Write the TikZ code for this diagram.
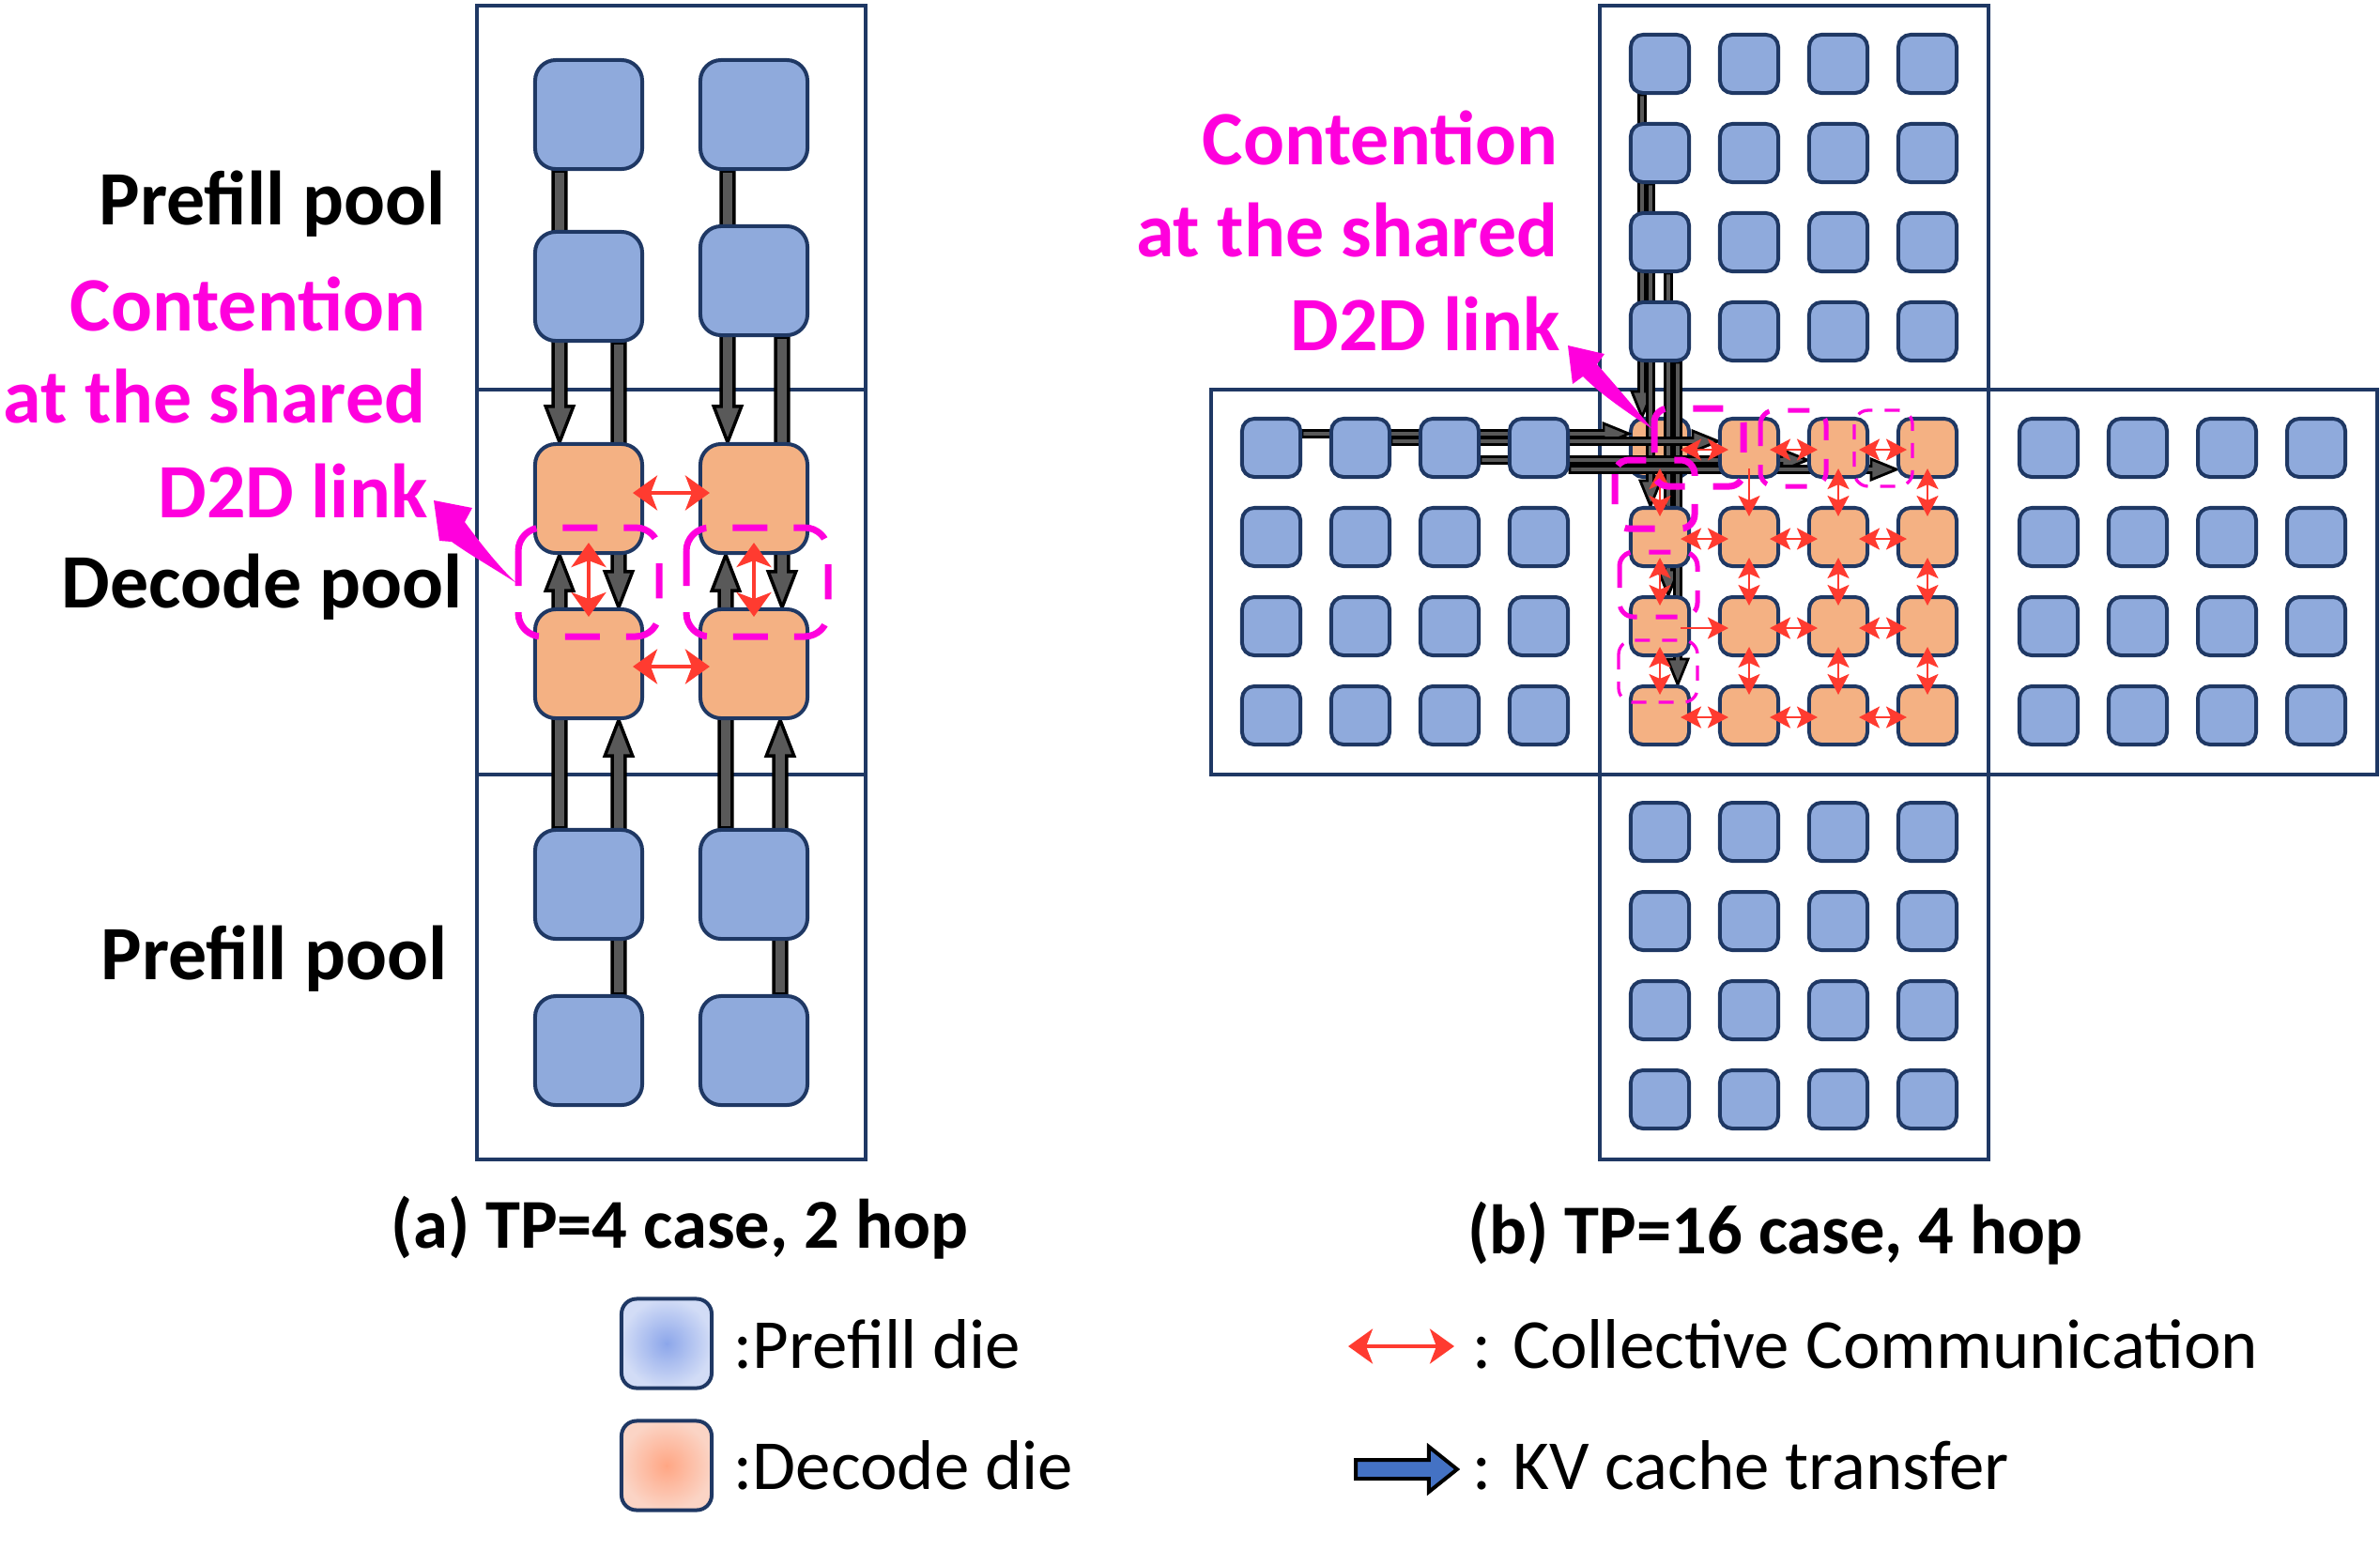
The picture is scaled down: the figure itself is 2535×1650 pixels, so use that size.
\documentclass[tikz,border=0pt]{standalone}
\usepackage{fontspec}
\setmainfont{Carlito}
\usetikzlibrary{arrows.meta,calc}
\pgfdeclarelayer{bg}\pgfdeclarelayer{low}\pgfdeclarelayer{kv}
\pgfsetlayers{bg,low,kv,main}
\definecolor{prefill}{HTML}{8FAADC}
\definecolor{decode}{HTML}{F4B183}
\definecolor{navy}{HTML}{1F3864}
\definecolor{kvgray}{HTML}{595959}
\definecolor{mag}{HTML}{FF00DD}
\definecolor{cred}{HTML}{FF3B30}
\definecolor{kvblue}{HTML}{4472C4}
\definecolor{legPin}{RGB}{140,166,234}
\definecolor{legPout}{RGB}{210,220,246}
\definecolor{legDin}{RGB}{255,166,132}
\definecolor{legDout}{RGB}{251,212,197}
% block arrow: style, start, end, half shaft, half head, head length
\newcommand\kvgen[6]{%
  \filldraw[#1] let \p1=(#2), \p2=(#3), \n1={atan2(\y2-\y1,\x2-\x1)}, \n2={veclen(\x2-\x1,\y2-\y1)} in
   ($(\p1)+(\n1+90:#4)$) -- ++(\n1:{\n2-#6}) -- ++(\n1+90:{#5-#4}) -- (\p2)
   -- ($(\p2)+(\n1+180:#6)+(\n1-90:#5)$) -- ++(\n1+90:{#5-#4}) -- ($(\p1)+(\n1-90:#4)$) -- cycle;}
\newcommand\kvA[2]{\kvgen{kvlineA}{#1}{#2}{0.068cm}{0.147cm}{0.38cm}}
\newcommand\kvB[2]{\kvgen{kvlineB}{#1}{#2}{0.035cm}{0.11cm}{0.27cm}}
\begin{document}
\begin{tikzpicture}[x=0.01cm,y=-0.01cm,
  blk/.style={draw=navy,line width=0.04cm},
  dieA/.style={rectangle,rounded corners=0.22cm,draw=navy,line width=0.04cm,minimum width=1.14cm,minimum height=1.16cm,inner sep=0pt},
  pA/.style={dieA,fill=prefill}, dA/.style={dieA,fill=decode},
  dieB/.style={rectangle,rounded corners=0.13cm,draw=navy,line width=0.04cm,minimum size=0.62cm,inner sep=0pt},
  pB/.style={dieB,fill=prefill}, dB/.style={dieB,fill=decode},
  kvlineA/.style={draw=black,fill=kvgray,line width=0.035cm,line join=miter},
  kvlineB/.style={draw=black,fill=kvgray,line width=0.028cm,line join=miter},
  kvlineL/.style={draw=black,fill=kvblue,line width=0.04cm,line join=miter},
  redA/.style={draw=cred,line width=0.035cm,{Stealth[length=0.26cm,width=0.37cm,inset=0.07cm]}-{Stealth[length=0.26cm,width=0.37cm,inset=0.07cm]}},
  redB/.style={draw=cred,line width=0.022cm,{Stealth[length=0.22cm,width=0.23cm,inset=0.05cm]}-{Stealth[length=0.22cm,width=0.23cm,inset=0.05cm]}},
  redBs/.style={draw=cred,line width=0.022cm,-{Stealth[length=0.22cm,width=0.23cm,inset=0.05cm]}},
  magA/.style={draw=mag,line width=0.07cm,dash pattern=on 0.37cm off 0.28cm,rounded corners=0.25cm},
  magS/.style={draw=mag,line width=0.07cm,dash pattern=on 0.32cm off 0.3cm,rounded corners=0.15cm},
  magM/.style={draw=mag,line width=0.05cm,dash pattern=on 0.23cm off 0.2cm,rounded corners=0.15cm},
  magT/.style={draw=mag,line width=0.033cm,dash pattern=on 0.16cm off 0.13cm,rounded corners=0.15cm},
  txt/.style={font=\fontsize{23.3pt}{28pt}\selectfont\bfseries,inner sep=0pt},
  magtxt/.style={txt,text=mag},
  captxt/.style={font=\fontsize{21.2pt}{25pt}\selectfont\bfseries,inner sep=0pt},
  legtxt/.style={font=\fontsize{21.3pt}{25pt}\selectfont,inner sep=0pt},
  legbox/.style={rectangle,rounded corners=0.16cm,draw=navy,line width=0.04cm,minimum width=0.96cm,minimum height=0.95cm,inner sep=0pt}
]
\useasboundingbox (0,0) rectangle (2535,1650);

% ---------- pool frames ----------
\begin{pgfonlayer}{bg}
\draw[blk] (508,6) rectangle (922,415);
\draw[blk] (508,415) rectangle (922,825);
\draw[blk] (508,825) rectangle (922,1235);
\draw[blk] (1704,6) rectangle (2118,415);
\draw[blk] (1290,415) rectangle (1704,825);
\draw[blk] (1704,415) rectangle (2118,825);
\draw[blk] (2118,415) rectangle (2532,825);
\draw[blk] (1704,825) rectangle (2118,1235);
\end{pgfonlayer}

% ---------- (a) dies ----------
\node[pA] (aP0L) at (627,122) {};
\node[pA] (aP1L) at (627,305) {};
\node[dA] (aD0L) at (627,531) {};
\node[dA] (aD1L) at (627,707) {};
\node[pA] (aP2L) at (627,942) {};
\node[pA] (aP3L) at (627,1119) {};
\node[pA] (aP0R) at (803,122) {};
\node[pA] (aP1R) at (803,299) {};
\node[dA] (aD0R) at (803,531) {};
\node[dA] (aD1R) at (803,707) {};
\node[pA] (aP2R) at (803,942) {};
\node[pA] (aP3R) at (803,1119) {};

% ---------- (b) dies ----------
\foreach \c in {0,...,3}{\foreach \r in {0,...,3}{
  \node[pB] (T-\c-\r) at ({1768+95*\c},{68+95*\r}) {};
  \node[pB] (L-\c-\r) at ({1354+95*\c},{477+95*\r}) {};
  \node[pB] (R-\c-\r) at ({2182+95*\c},{477+95*\r}) {};
  \node[pB] (B-\c-\r) at ({1768+95*\c},{886+95*\r}) {};
  \ifnum\numexpr\c+\r\relax>0
    \node[dB] (C-\c-\r) at ({1768+95*\c},{477+95*\r}) {};
  \fi
}}
\begin{pgfonlayer}{low}
\node[dB] (C-0-0) at (1768,477) {};
\end{pgfonlayer}

% ---------- KV cache transfer arrows ----------
\begin{pgfonlayer}{kv}
\kvA{$(aP0L.south)+(-31,0)$}{$(aD0L.north)+(-31,0)$}
\kvA{$(aP1L.south)+(32,0)$}{$(aD1L.north)+(32,0)$}
\kvA{$(aP2L.north)+(-31,0)$}{$(aD0L.south)+(-31,0)$}
\kvA{$(aP3L.north)+(32,0)$}{$(aD1L.south)+(32,0)$}
\kvA{$(aP0R.south)+(-28,0)$}{$(aD0R.north)+(-28,0)$}
\kvA{$(aP1R.south)+(30,0)$}{$(aD1R.north)+(30,0)$}
\kvA{$(aP2R.north)+(-30,0)$}{$(aD0R.south)+(-30,0)$}
\kvA{$(aP3R.north)+(28,0)$}{$(aD1R.south)+(28,0)$}
% (b)
\kvB{$(T-0-0.south)+(-19,0)$}{$(C-0-0.north)+(-19,0)$}
\kvB{$(T-0-1.south)+(-10,0)$}{$(C-0-1.north)+(-10,0)$}
\kvB{$(T-0-2.south)+(9,0)$}{$(C-0-2.north)+(9,0)$}
\kvB{$(T-0-3.south)+(19,0)$}{$(C-0-3.north)+(19,0)$}
\kvB{$(L-0-0.east)+(0,-15)$}{$(C-0-0.west)+(0,-15)$}
\kvB{$(L-1-0.east)+(0,-7)$}{$(C-1-0.west)+(0,-7)$}
\kvB{$(L-2-0.east)+(0,13)$}{$(C-2-0.west)+(0,13)$}
\kvB{$(L-3-0.east)+(0,23)$}{$(C-3-0.west)+(0,23)$}
\end{pgfonlayer}

% ---------- collective communication (a) ----------
\draw[redA] ($(aD0L.east)+(-12,-6)$) -- ($(aD0R.west)+(12,-6)$);
\draw[redA] ($(aD1L.east)+(-12,3)$) -- ($(aD1R.west)+(12,3)$);
\draw[redA] ($(aD0L.south)+(0,-13)$) -- ($(aD1L.north)+(0,10)$);
\draw[redA] ($(aD0R.south)+(0,-13)$) -- ($(aD1R.north)+(0,10)$);

% ---------- collective communication (b) ----------
\foreach \r in {0,...,3}{\foreach \c/\d in {0/1,1/2,2/3}{
  \ifnum\r\c=20
    \draw[redBs] ($(C-\c-\r.east)+(-11,2)$) -- ($(C-\d-\r.west)+(11,2)$);
  \else
    \draw[redB] ($(C-\c-\r.east)+(-11,2)$) -- ($(C-\d-\r.west)+(11,2)$);
  \fi
}}
\foreach \c in {0,...,3}{\foreach \r/\s in {0/1,1/2,2/3}{
  \ifnum\c\r=10
    \draw[redBs] ($(C-\c-\r.south)+(0,-11)$) -- ($(C-\c-\s.north)+(0,11)$);
  \else
    \draw[redB] ($(C-\c-\r.south)+(0,-11)$) -- ($(C-\c-\s.north)+(0,11)$);
  \fi
}}

% ---------- contention markers ----------
\draw[magA] (552,562) rectangle (702,678);
\draw[magA] (731,562) rectangle (882,678);
\draw[magS] (1762,435) rectangle (1857,518);
\draw[magS] (1720,490) rectangle (1805,563);
\draw[magM] (1875,437) rectangle (1945,518);
\draw[magT] (1975,437) rectangle (2037,518);
\draw[magM] (1725,588) rectangle (1808,657);
\draw[magT] (1724,682) rectangle (1808,748);

% callout arrows
\fill[mag] (462,533) -- (503,541) -- (495,556) .. controls (515,583) and (532,604) .. (550,621)
  .. controls (527,606) and (502,592) .. (481,577) -- (468,576) -- cycle;
\fill[mag] (1670,368) -- (1709,377) -- (1701,388) .. controls (1724,414) and (1744,438) .. (1760,457)
  .. controls (1736,441) and (1706,421) .. (1686,401) -- (1675,409) -- cycle;

% ---------- texts (a) ----------
\node[txt,anchor=base east] (tPre1) at (475,239) {Prefill pool};
\node[magtxt,anchor=base east] (tCa1) at (454,352) {Contention};
\node[magtxt,anchor=base east] (tCa2) at (454,450) {at the shared};
\node[magtxt,anchor=base east] (tCa3) at (456,551) {D2D link};
\node[txt,anchor=base east] (tDec) at (493,647) {Decode pool};
\node[txt,anchor=base east] (tPre2) at (477,1043) {Prefill pool};
% ---------- texts (b) ----------
\node[magtxt,anchor=base east] (tCb1) at (1660,175) {Contention};
\node[magtxt,anchor=base east] (tCb2) at (1660,273) {at the shared};
\node[magtxt,anchor=base east] (tCb3) at (1662,373) {D2D link};
% captions
\node[captxt,anchor=base] (capA) at (724,1329) {(a) TP=4 case, 2 hop};
\node[captxt,anchor=base] (capB) at (1891,1335) {(b) TP=16 case, 4 hop};

% ---------- legend ----------
\node[legbox,inner color=legPin,outer color=legPout] (legP) at (710,1431) {};
\node[legbox,inner color=legDin,outer color=legDout] (legD) at (710,1561) {};
\node[legtxt,anchor=base west] (legPt) at (781,1457) {:Prefill die};
\node[legtxt,anchor=base west] (legDt) at (781,1586) {:Decode die};
\coordinate (lr1) at (1436,1434);
\coordinate (lr2) at (1549,1434);
\draw[redA] (lr1) -- (lr2);
\node[legtxt,anchor=base west] (legCt) at (1568,1457) {: Collective Communication};
\coordinate (lk1) at (1444,1565);
\coordinate (lk2) at (1552,1565);
\kvgen{kvlineL}{lk1}{lk2}{0.1cm}{0.24cm}{0.3cm}
\node[legtxt,anchor=base west] (legKt) at (1568,1586) {: KV cache transfer};
\end{tikzpicture}
\end{document}
